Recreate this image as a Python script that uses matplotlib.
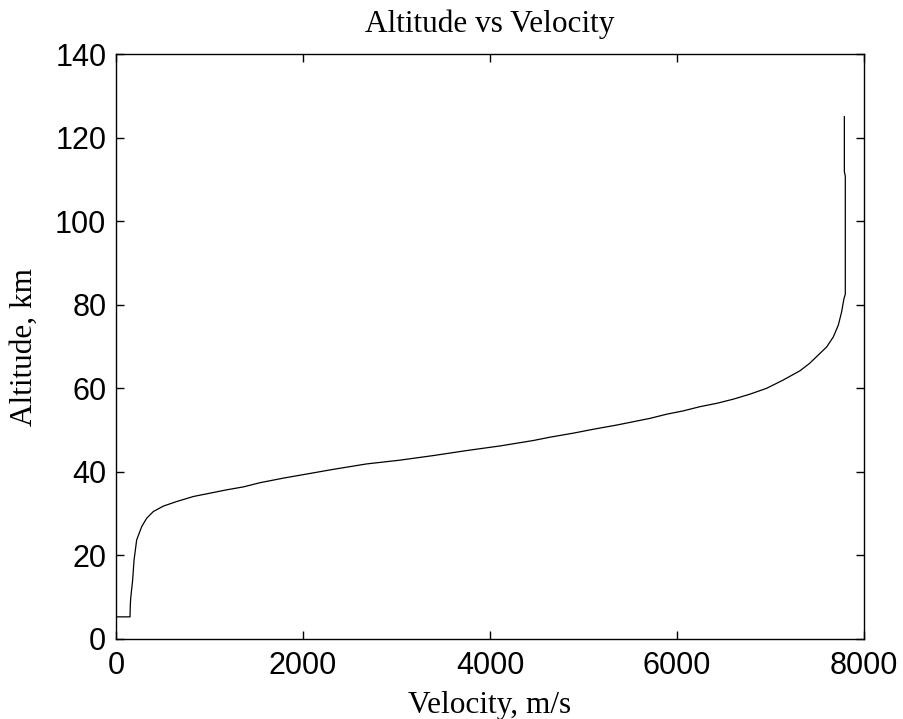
import matplotlib
matplotlib.use("Agg")
import matplotlib.pyplot as plt

# Reentry trajectory: velocity (m/s) against altitude (km)
velocity = [0, 150, 152, 157, 178, 193, 221, 275, 328, 399, 506, 649, 827,
            1005, 1184, 1362, 1540, 1790, 1968, 2324, 2681, 3037, 3394, 3751,
            4107, 4463, 4642, 4900, 5106, 5355, 5533, 5711, 5890, 6068, 6246,
            6425, 6603, 6781, 6959, 7138, 7316, 7420, 7494, 7601, 7672, 7725,
            7761, 7786, 7800, 7800, 7790, 7790]
altitude = [5.3, 5.3, 7.5, 9.7, 14.1, 18.9, 23.7, 26.9, 28.9, 30.5, 31.8, 32.9,
            34.1, 34.9, 35.7, 36.4, 37.4, 38.5, 39.2, 40.6, 41.9, 42.8, 43.9,
            45.1, 46.2, 47.5, 48.3, 49.3, 50.2, 51.2, 52.0, 52.8, 53.8, 54.6,
            55.6, 56.4, 57.4, 58.6, 60.0, 62.0, 64.2, 66.0, 67.6, 69.9, 72.3,
            75.1, 78.3, 81.5, 82.5, 110.8, 111.8, 125.0]

x_ticks = [0, 2000, 4000, 6000, 8000]
y_ticks = [0, 20, 40, 60, 80, 100, 120, 140]

fig = plt.figure(figsize=(9.04, 7.19), dpi=100)
ax = fig.add_axes([116 / 904, 1 - 639 / 719, 748 / 904, 585 / 719])

ax.plot(velocity, altitude, color="black", linewidth=0.9)

ax.set_xlim(0, 8000)
ax.set_ylim(0, 140)
ax.set_xticks(x_ticks)
ax.set_yticks(y_ticks)

tick_font = {"family": "Liberation Sans", "size": 22}
ax.set_xticklabels([str(v) for v in x_ticks], fontdict=tick_font)
ax.set_yticklabels([str(v) for v in y_ticks], fontdict=tick_font)
ax.tick_params(direction="in", length=6, width=1, top=True, right=True,
               colors="black")
ax.tick_params(axis="x", pad=9)
ax.tick_params(axis="y", pad=7)
for sp in ax.spines.values():
    sp.set_linewidth(1.0)
    sp.set_color("black")

label_font = {"family": "Liberation Serif", "size": 22.5}
ax.set_title("Altitude vs Velocity", fontdict=label_font, pad=16)
ax.set_xlabel("Velocity, m/s", fontdict=label_font, labelpad=7)
ax.set_ylabel("Altitude, km", fontdict=label_font, labelpad=12)

fig.savefig("out.png", dpi=100, facecolor="white")
